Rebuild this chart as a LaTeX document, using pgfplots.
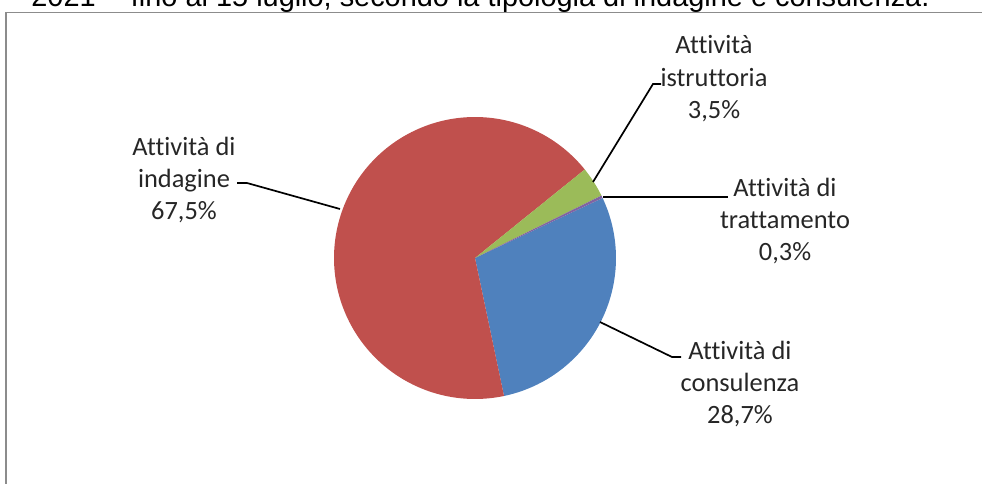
\documentclass[border=0pt]{standalone}
\usepackage{fontspec}
\setmainfont{Carlito}[Ligatures={NoCommon}]
\newfontfamily\arialf{Liberation Sans}
\usepackage{pgfplots}
\pgfplotsset{compat=1.18}
\definecolor{pieblue}{HTML}{4F81BD}
\definecolor{piered}{HTML}{C0504D}
\definecolor{piegreen}{HTML}{9BBB59}
\definecolor{piepurple}{HTML}{8064A2}
\definecolor{framegray}{HTML}{8C8C8C}
% slice values (percent), clockwise from start angle
\def\vCons{28.7}
\def\vInd{67.5}
\def\vIst{3.5}
\def\vTrat{0.3}
\def\startang{25.2}
\pgfmathsetmacro\aO{\startang}
\pgfmathsetmacro\aA{\aO-3.6*\vCons}
\pgfmathsetmacro\aB{\aA-3.6*\vInd}
\pgfmathsetmacro\aC{\aB-3.6*\vIst}
\pgfmathsetmacro\aD{\aC-3.6*\vTrat}
\begin{document}
\begin{tikzpicture}
\useasboundingbox (0,0) rectangle (491pt,241.5pt);
\clip (0,0) rectangle (491pt,241.5pt);
\begin{axis}[
  x=0.5pt, y=0.5pt,
  xmin=0, xmax=982, ymin=0, ymax=483,
  hide axis, clip=false,
  at={(0,0)}, anchor=south west,
]
% frame
\draw[framegray, line width=0.8pt] (axis cs:6,470.5) rectangle (axis cs:1010,-30);
% title (cut off at top, as in the reference)
\node[anchor=base west, inner sep=0pt, font=\arialf\fontsize{14.45}{17}\selectfont] at (axis cs:31,476) {2021 -- fino al 15 luglio, secondo la tipologia di indagine e consulenza.};
% pie slices
\addplot[fill=pieblue, draw=none, domain=\aA:\aO, samples=80] ({475+141*cos(x)},{225+141*sin(x)}) -- (axis cs:475,225) -- cycle;
\addplot[fill=piered, draw=none, domain=\aB:\aA, samples=160] ({475+141*cos(x)},{225+141*sin(x)}) -- (axis cs:475,225) -- cycle;
\addplot[fill=piegreen, draw=none, domain=\aC:\aB, samples=20] ({475+141*cos(x)},{225+141*sin(x)}) -- (axis cs:475,225) -- cycle;
\addplot[fill=piepurple, draw=none, domain=\aD:\aC, samples=5] ({475+141*cos(x)},{225+141*sin(x)}) -- (axis cs:475,225) -- cycle;
% leader lines
\addplot[black, line width=0.85pt, mark=none] coordinates {(237,300) (247,300) (340,274)};
\addplot[black, line width=0.85pt, mark=none] coordinates {(593,301) (653,399) (661,399)};
\addplot[black, line width=0.85pt, mark=none] coordinates {(603,286) (728,286)};
\addplot[black, line width=0.85pt, mark=none] coordinates {(600,161) (672,126) (681,126)};
% labels
\tikzset{lbl/.style={align=center, inner sep=0pt, font=\fontsize{13.2}{16.2}\selectfont, text=black!85}}
\node[lbl] at (axis cs:184,303) {Attività di\\indagine\\67,5\%};
\node[lbl] at (axis cs:714,404) {Attività\\istruttoria\\3,5\%};
\node[lbl] at (axis cs:785,262) {Attività di\\trattamento\\0,3\%};
\node[lbl] at (axis cs:740,99) {Attività di\\consulenza\\28,7\%};
\end{axis}
\end{tikzpicture}
\end{document}
